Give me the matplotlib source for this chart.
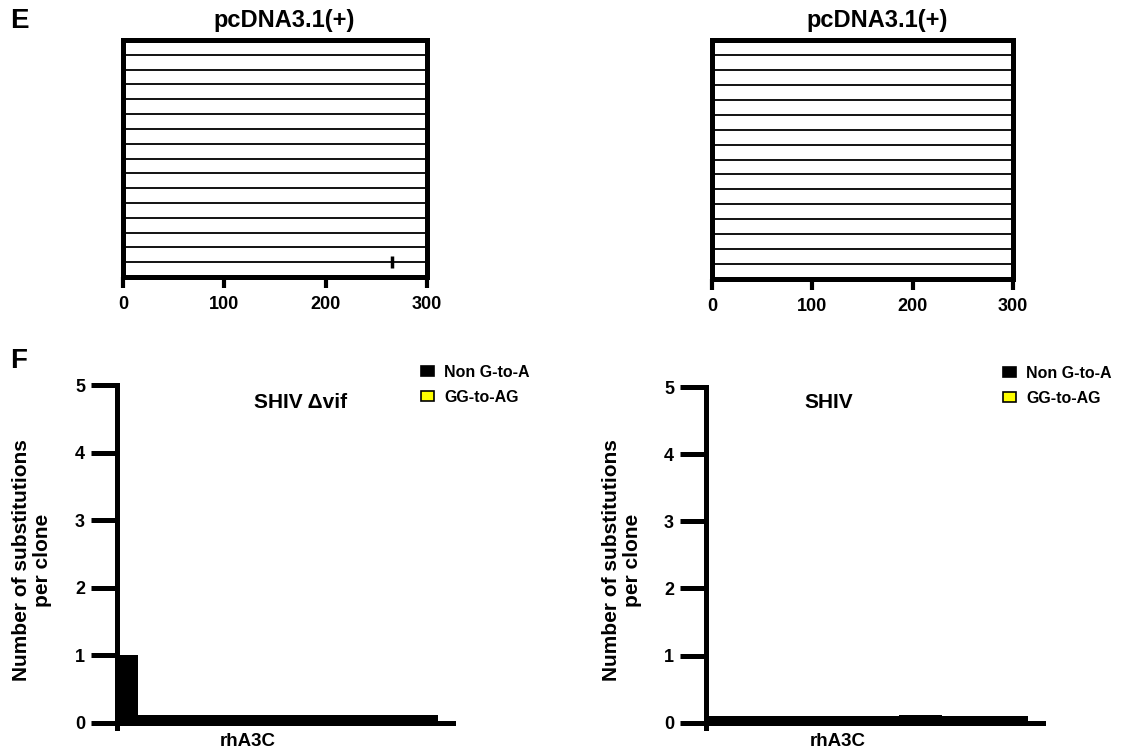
import matplotlib
matplotlib.use("Agg")
import matplotlib.pyplot as plt
from matplotlib.patches import Patch
import numpy as np

plt.rcParams['font.family'] = ['Liberation Sans', 'DejaVu Sans']
plt.rcParams['font.weight'] = 'bold'

W, H = 1121, 755

# ---------------- data ----------------
n_clones = 15
xticks_top = [0, 100, 200, 300]
# panel E (left): mutations (clone index 1..15 from top, position in nt)
mutE_left_clone = [15]
mutE_left_pos = [265]
# panel E (right): no mutations
mutE_right_clone = []
mutE_right_pos = []

# panel F: per-clone substitutions
nonGA_left = [1.0, 0.11, 0.11, 0.11, 0.11, 0.11, 0.11, 0.11, 0.11, 0.11, 0.11, 0.11, 0.11, 0.11, 0.11]
ggAG_left = [0.0] * 15
nonGA_right = [0.1, 0.1, 0.1, 0.1, 0.1, 0.1, 0.1, 0.1, 0.1, 0.12, 0.12, 0.1, 0.1, 0.1, 0.1]
ggAG_right = [0.0] * 15
yticks_bottom = [0, 1, 2, 3, 4, 5]
category = "rhA3C"
legend_labels = ["Non G-to-A", "GG-to-AG"]
top_title = "pcDNA3.1(+)"
bottom_titles = ["SHIV \u0394vif", "SHIV"]
ylabel = "Number of substitutions\nper clone"


def fx(px):
    return px / W


def fy(py):
    return 1 - py / H


fig = plt.figure(figsize=(W / 100, H / 100), dpi=100)


def top_panel(rect, mclones, mpos):
    ax = fig.add_axes(rect)
    ax.set_xlim(0, 300)
    ax.set_ylim(0, n_clones + 1)
    for i in range(1, n_clones + 1):
        ax.hlines(n_clones + 1 - i, 0, 300, color='black', lw=1.3, zorder=1)
    ys = [n_clones + 1 - c for c in mclones]
    ax.plot(mpos, ys, linestyle='none', marker='|', markersize=9,
            markeredgewidth=2.5, color='black', zorder=3)
    for s in ax.spines.values():
        s.set_linewidth(3.6)
    ax.set_yticks([])
    ax.set_xticks(xticks_top)
    ax.tick_params(axis='x', direction='out', length=8, width=3, pad=6,
                   labelsize=13)
    for lab in ax.get_xticklabels():
        lab.set_fontweight('bold')
    return ax


top_panel([fx(123), fy(277), (427 - 123) / W, (277 - 40) / H],
          mutE_left_clone, mutE_left_pos)
top_panel([fx(712), fy(279), (1013 - 712) / W, (279 - 40) / H],
          mutE_right_clone, mutE_right_pos)

fig.text(fx(284), fy(21), top_title, ha='center', va='center', fontsize=17, fontweight='bold')
fig.text(fx(877), fy(21), top_title, ha='center', va='center', fontsize=17, fontweight='bold')
fig.text(fx(19), fy(21), "E", ha='center', va='center', fontsize=20, fontweight='bold')
fig.text(fx(19), fy(361), "F", ha='center', va='center', fontsize=20, fontweight='bold')


def bottom_panel(rect, nonga, gg, title, title_xy, leg_xy, lab_x, ylab_x):
    ax = fig.add_axes(rect)
    x = np.arange(len(nonga))
    ax.bar(x, nonga, width=1.0, color='black', edgecolor='black', lw=0, zorder=3)
    ax.bar(x, gg, width=1.0, bottom=nonga, color='#ffff00', edgecolor='black', lw=0, zorder=3)
    ax.set_xlim(-0.5, 15.2)
    ax.set_ylim(-0.08, 5)
    ax.spines['top'].set_visible(False)
    ax.spines['right'].set_visible(False)
    ax.spines['left'].set_linewidth(3.6)
    ax.spines['bottom'].set_linewidth(3.6)
    ax.spines['bottom'].set_position(('data', 0))
    ax.set_xticks([])
    ax.set_yticks(yticks_bottom)
    ax.tick_params(axis='y', direction='out', length=19, width=3.6, pad=4, labelsize=13)
    for lab in ax.get_yticklabels():
        lab.set_fontweight('bold')
    fig.text(fx(title_xy[0]), fy(title_xy[1]), title, ha='center', va='center',
             fontsize=15, fontweight='bold')
    handles = [Patch(facecolor='black', edgecolor='black', lw=1.2),
               Patch(facecolor='#ffff00', edgecolor='black', lw=1.2)]
    fig.legend(handles, legend_labels, loc='upper left',
               bbox_to_anchor=(fx(leg_xy[0]), fy(leg_xy[1])),
               bbox_transform=fig.transFigure, frameon=False,
               borderpad=0, borderaxespad=0, handlelength=0.8, handleheight=0.6,
               handletextpad=0.65, labelspacing=0.6,
               prop={'size': 11.5, 'weight': 'bold'})
    fig.text(fx(lab_x), fy(742), category, ha='center', va='center',
             fontsize=13.5, fontweight='bold')
    fig.text(fx(ylab_x), fy(560), ylabel, ha='center', va='center', rotation=90,
             fontsize=15, fontweight='bold', multialignment='center', linespacing=1.1)
    return ax


bottom_panel([fx(117), fy(728), (453 - 117) / W, (728 - 385) / H],
             nonGA_left, ggAG_left, bottom_titles[0], (301, 403), (421, 365), 248, 32)
bottom_panel([fx(706), fy(728), (1043 - 706) / W, (728 - 387) / H],
             nonGA_right, ggAG_right, bottom_titles[1], (829, 403), (1003, 366), 838, 622)

fig.savefig("out.png", dpi=100)
